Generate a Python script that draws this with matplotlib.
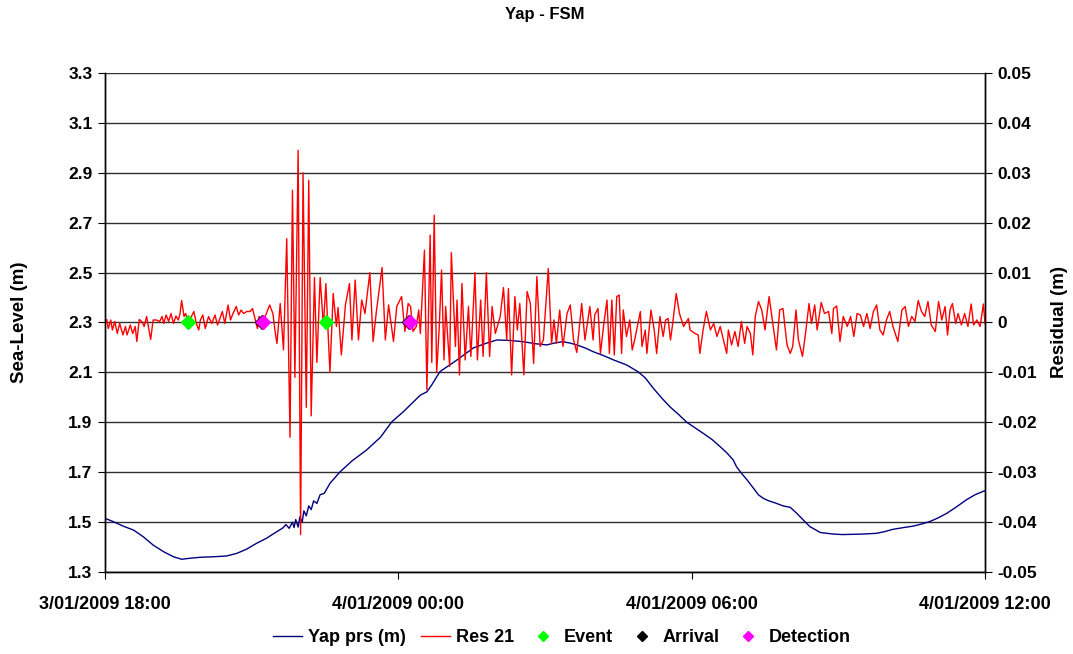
import numpy as np
import pandas as pd
import matplotlib
matplotlib.use('Agg')
import matplotlib.pyplot as plt

plt.rcParams['font.family'] = ['Liberation Sans', 'DejaVu Sans']
plt.rcParams['font.weight'] = 'bold'

start = pd.Timestamp('2009-01-03 18:00')

# sea level, minutes after 18:00 and metres
sl_min = [0, 10, 22, 35, 47, 59, 72, 84, 94, 104,
          117, 133, 149, 162, 174, 186, 198, 211, 218,
          222, 226, 230, 232, 234, 237, 239, 242, 244, 247,
          250, 253, 256, 260, 264, 269, 276, 288, 303, 321,
          338, 352, 366, 387, 395, 401, 411, 432, 452, 468,
          481, 497, 513, 528, 542, 552, 562, 570, 579, 590,
          599, 612, 624, 640, 654, 663, 673, 683, 693, 704,
          714, 724, 734, 745, 755, 763, 771, 775, 781, 788,
          796, 802, 808, 814, 824, 832, 841, 849, 855, 861,
          865, 878, 894, 905, 918, 930, 947, 957, 967, 980,
          992, 1002, 1012, 1022, 1033, 1045, 1057, 1068, 1080]
sl_m = [1.515, 1.502, 1.484, 1.468, 1.441, 1.408, 1.381, 1.361, 1.351, 1.355,
        1.359, 1.361, 1.364, 1.375, 1.392, 1.415, 1.435, 1.462, 1.476,
        1.49, 1.475, 1.50, 1.478, 1.51, 1.48, 1.52, 1.50, 1.545, 1.525,
        1.565, 1.55, 1.585, 1.575, 1.61, 1.615, 1.655, 1.70, 1.745, 1.789,
        1.84, 1.902, 1.942, 2.009, 2.022, 2.05, 2.103, 2.15, 2.198, 2.217,
        2.23, 2.228, 2.223, 2.215, 2.21, 2.218, 2.223, 2.218, 2.21, 2.197,
        2.183, 2.167, 2.15, 2.13, 2.103, 2.078, 2.036, 1.998, 1.963, 1.931,
        1.90, 1.878, 1.856, 1.831, 1.802, 1.778, 1.749, 1.722, 1.696, 1.669,
        1.635, 1.609, 1.595, 1.586, 1.575, 1.565, 1.559, 1.535, 1.515, 1.495,
        1.482, 1.458, 1.452, 1.450, 1.451, 1.452, 1.455, 1.462, 1.471, 1.478,
        1.484, 1.492, 1.502, 1.516, 1.535, 1.561, 1.589, 1.61, 1.626]

# residual, minutes after 18:00 and millimetres
res_min = [0, 2, 4, 7, 9, 12, 15, 18, 22, 25,
           27, 31, 34, 37, 39, 42, 45, 48, 51, 56,
           59, 63, 67, 70, 72, 75, 78, 81, 84, 87,
           90, 92, 94, 97, 99, 102, 106, 109, 112, 115,
           117, 120, 123, 127, 131, 135, 138, 141, 144, 147,
           151, 154, 157, 161, 164, 167, 170, 174, 178, 181,
           184, 187, 189, 192, 194, 198, 202, 206, 209, 211,
           215, 219, 223, 227, 230, 233, 237, 240, 243, 247,
           250, 253, 257, 260, 264, 268, 271, 276, 280, 284,
           286, 290, 295, 300, 303, 307, 311, 315, 319, 325,
           329, 333, 340, 344, 348, 354, 358, 364, 368, 372,
           375, 378, 382, 385, 387, 392, 395, 399, 401, 404,
           407, 410, 413, 416, 418, 423, 425, 430, 432, 435,
           438, 442, 446, 449, 454, 457, 461, 464, 468, 472,
           475, 479, 485, 489, 493, 495, 499, 503, 506, 509,
           514, 518, 522, 526, 530, 534, 538, 544, 548, 551,
           554, 558, 562, 567, 571, 575, 579, 585, 589, 595,
           599, 601, 605, 608, 612, 616, 619, 622, 625, 628,
           631, 634, 636, 640, 644, 647, 650, 657, 659, 663,
           665, 670, 674, 677, 681, 685, 688, 691, 694, 697,
           701, 705, 710, 716, 718, 724, 728, 730, 734, 738,
           743, 747, 751, 755, 759, 763, 765, 769, 773, 777,
           781, 785, 788, 792, 795, 798, 802, 806, 810, 815,
           820, 824, 828, 832, 837, 841, 844, 848, 851, 856,
           860, 864, 867, 871, 874, 879, 883, 888, 892, 894,
           898, 902, 906, 911, 915, 919, 923, 927, 931, 935,
           939, 943, 947, 951, 955, 959, 963, 967, 973, 978,
           982, 986, 990, 994, 998, 1002, 1006, 1010, 1014, 1019,
           1023, 1027, 1031, 1034, 1037, 1040, 1044, 1047, 1051, 1055,
           1059, 1063, 1066, 1070, 1074, 1078, 1080]
res_mm = [-0.2, 0.6, -1.2, 0.5, -1.5, 0.2, -2.2, -0.2, -2.5, -0.8,
          -2.5, -0.5, -2.2, -0.8, -3.8, 0.6, 0.2, -0.8, 1.2, -3.4,
          0.5, 0.5, 0.2, 1.2, -0.2, 1.5, 0.2, 1.8, -0.2, 1.3,
          0.5, 1.8, 4.4, 1.2, 1.8, 0.0, 1.2, 2.2, -0.2, -1.5,
          0.5, 1.5, -1.2, 1.2, -0.2, 1.5, -0.5, 0.8, 2.2, -0.2,
          3.5, 0.5, 1.8, 3.2, 1.5, 2.5, 1.8, 2.2, 2.2, 2.8,
          0.8, -1.2, 1.2, -0.8, 0.2, 1.8, 3.5, 1.8, -2.2, -4.2,
          3.8, -5.5, 16.8, -23.0, 26.5, -11.0, 34.5, -42.5, 30.0, -17.0,
          28.5, -18.7, 9.0, -8.0, 9.0, -0.8, 7.8, -10.0, 5.8, -0.8,
          3.0, -6.5, 3.5, 7.8, -3.5, 8.5, -3.5, 4.5, 1.8, 10.0,
          -3.8, 2.2, 11.0, -3.5, 3.5, -3.8, 3.2, 5.2, -1.8, 3.8,
          3.2, -1.8, -0.8, 2.5, -2.2, 14.5, -13.5, 17.5, -8.0, 21.5,
          -10.0, -1.5, 10.5, -7.5, 3.2, -8.8, 14.0, -4.8, 4.5, -10.5,
          7.8, -7.5, 3.2, -6.8, 10.0, -7.5, 4.5, -6.8, 10.0, -6.8,
          3.2, -2.2, 1.2, 7.0, -3.5, 6.8, -10.5, 5.2, -1.5, 3.8,
          -10.5, 6.2, 3.8, -8.2, 9.2, -4.8, -3.5, 10.8, -4.2, 0.5,
          -4.2, 2.5, -4.8, 1.8, 3.5, -3.5, -6.0, 3.8, -3.5, 3.2,
          -3.5, 1.5, 2.8, -6.2, -0.5, 4.5, -6.2, 4.5, -6.5, 5.2,
          5.5, -6.2, 2.5, -2.8, 0.5, -5.5, -3.5, 2.2, -4.8, -1.5,
          -6.2, 2.5, -1.5, -6.2, 1.2, -2.8, 0.5, 0.8, -3.5, 0.2,
          5.8, 1.8, -0.8, 0.8, -1.5, -2.2, -2.5, -6.2, -1.5, 2.2,
          -1.5, -0.2, -2.8, -0.8, -3.5, -6.2, -1.5, -4.5, -1.8, -4.8,
          0.2, -4.2, -0.8, -2.2, -6.5, 1.2, 4.2, 2.5, -1.5, 5.2,
          -0.8, -5.5, 2.5, 2.8, -4.5, -6.2, -4.8, 2.5, -3.5, -6.8,
          -1.8, 3.8, -0.2, 3.5, -1.5, 4.0, 1.8, 2.2, -2.2, 2.8,
          3.3, -3.8, 1.2, -0.8, 1.2, -2.8, 1.8, 1.5, -0.8, 1.8,
          -1.2, 2.2, 3.5, -1.5, -2.5, 0.5, 2.2, -0.8, -3.8, 2.5,
          3.2, -0.8, 1.2, 0.2, 4.4, 2.2, 1.2, 4.2, -0.5, -1.8,
          4.2, 0.5, 3.2, -2.5, 2.5, 3.8, -0.2, 1.8, -0.5, 1.8,
          -0.8, 3.7, -0.5, 0.5, -0.8, 3.7, -0.2]

event_min = [102, 271]
arrival_min = [193, 373]
detect_min = [194, 374]

xtick_min = [0, 360, 720, 1080]
xtick_labels = ['3/01/2009 18:00', '4/01/2009 00:00', '4/01/2009 06:00', '4/01/2009 12:00']
left_ticks = [1.3, 1.5, 1.7, 1.9, 2.1, 2.3, 2.5, 2.7, 2.9, 3.1, 3.3]
right_ticks = [-0.05, -0.04, -0.03, -0.02, -0.01, 0, 0.01, 0.02, 0.03, 0.04, 0.05]
right_labels = ['-0.05', '-0.04', '-0.03', '-0.02', '-0.01', '0',
                '0.01', '0.02', '0.03', '0.04', '0.05']


def to_time(m):
    return start + pd.to_timedelta(np.asarray(m), unit='m')


fig = plt.figure(figsize=(10.73, 6.54), dpi=100)
ax = fig.add_axes([0.0979, 0.1254, 0.8201, 0.763])
ax2 = ax.twinx()

ax.plot(to_time(sl_min), sl_m, color='#000080', lw=1, label='Yap prs (m)')
ax2.plot(to_time(res_min), np.array(res_mm) / 1000, color='#FF0000', lw=1, label='Res 21')
ax2.plot(to_time(event_min), np.zeros(len(event_min)), ls='none', marker='D', ms=7,
         color='#00FF00', label='Event')
ax2.plot(to_time(arrival_min), np.zeros(len(arrival_min)), ls='none', marker='D', ms=7,
         color='black', label='Arrival')
ax2.plot(to_time(detect_min), np.zeros(len(detect_min)), ls='none', marker='D', ms=7,
         color='#FF00FF', label='Detection')

ax.set_xlim(to_time([0])[0], to_time([1080])[0])
ax.set_ylim(1.3, 3.3)
ax2.set_ylim(-0.05, 0.05)

ax.set_yticks(left_ticks)
ax.set_yticklabels([f'{v:.1f}' for v in left_ticks])
ax2.set_yticks(right_ticks)
ax2.set_yticklabels(right_labels)
ax.set_xticks(to_time(xtick_min))
ax.set_xticklabels(xtick_labels)

ax.grid(axis='y', color='#303030', lw=1)
ax.grid(axis='x', visible=False)
for a in (ax, ax2):
    a.spines['top'].set_visible(False)
    for s in ('left', 'right', 'bottom'):
        a.spines[s].set_color('black')
        a.spines[s].set_linewidth(1)

ax.tick_params(axis='y', direction='out', length=5, labelsize=12.5, pad=4)
ax2.tick_params(axis='y', direction='out', length=5, labelsize=12.5, pad=4)
ax.tick_params(axis='x', direction='out', length=5, labelsize=13, pad=12)

ax.set_ylabel('Sea-Level (m)', fontsize=13.5, fontweight='bold')
ax.yaxis.set_label_coords(-0.087, 0.5)
ax2.set_ylabel('Residual (m)', fontsize=13.5, fontweight='bold', rotation=90)
ax2.yaxis.set_label_coords(1.075, 0.5)

fig.text(0.508, 1 - 15 / 654, 'Yap - FSM', ha='center', va='center',
         fontsize=12, fontweight='bold')

h1, l1 = ax.get_legend_handles_labels()
h2, l2 = ax2.get_legend_handles_labels()
fig.legend(h1 + h2, l1 + l2, loc='center', bbox_to_anchor=(0.524, 1 - 638 / 654),
           ncol=5, frameon=False, fontsize=13, handlelength=1.6, columnspacing=0.8,
           handletextpad=0.35, markerscale=0.8)

fig.savefig('out.png', dpi=100)
